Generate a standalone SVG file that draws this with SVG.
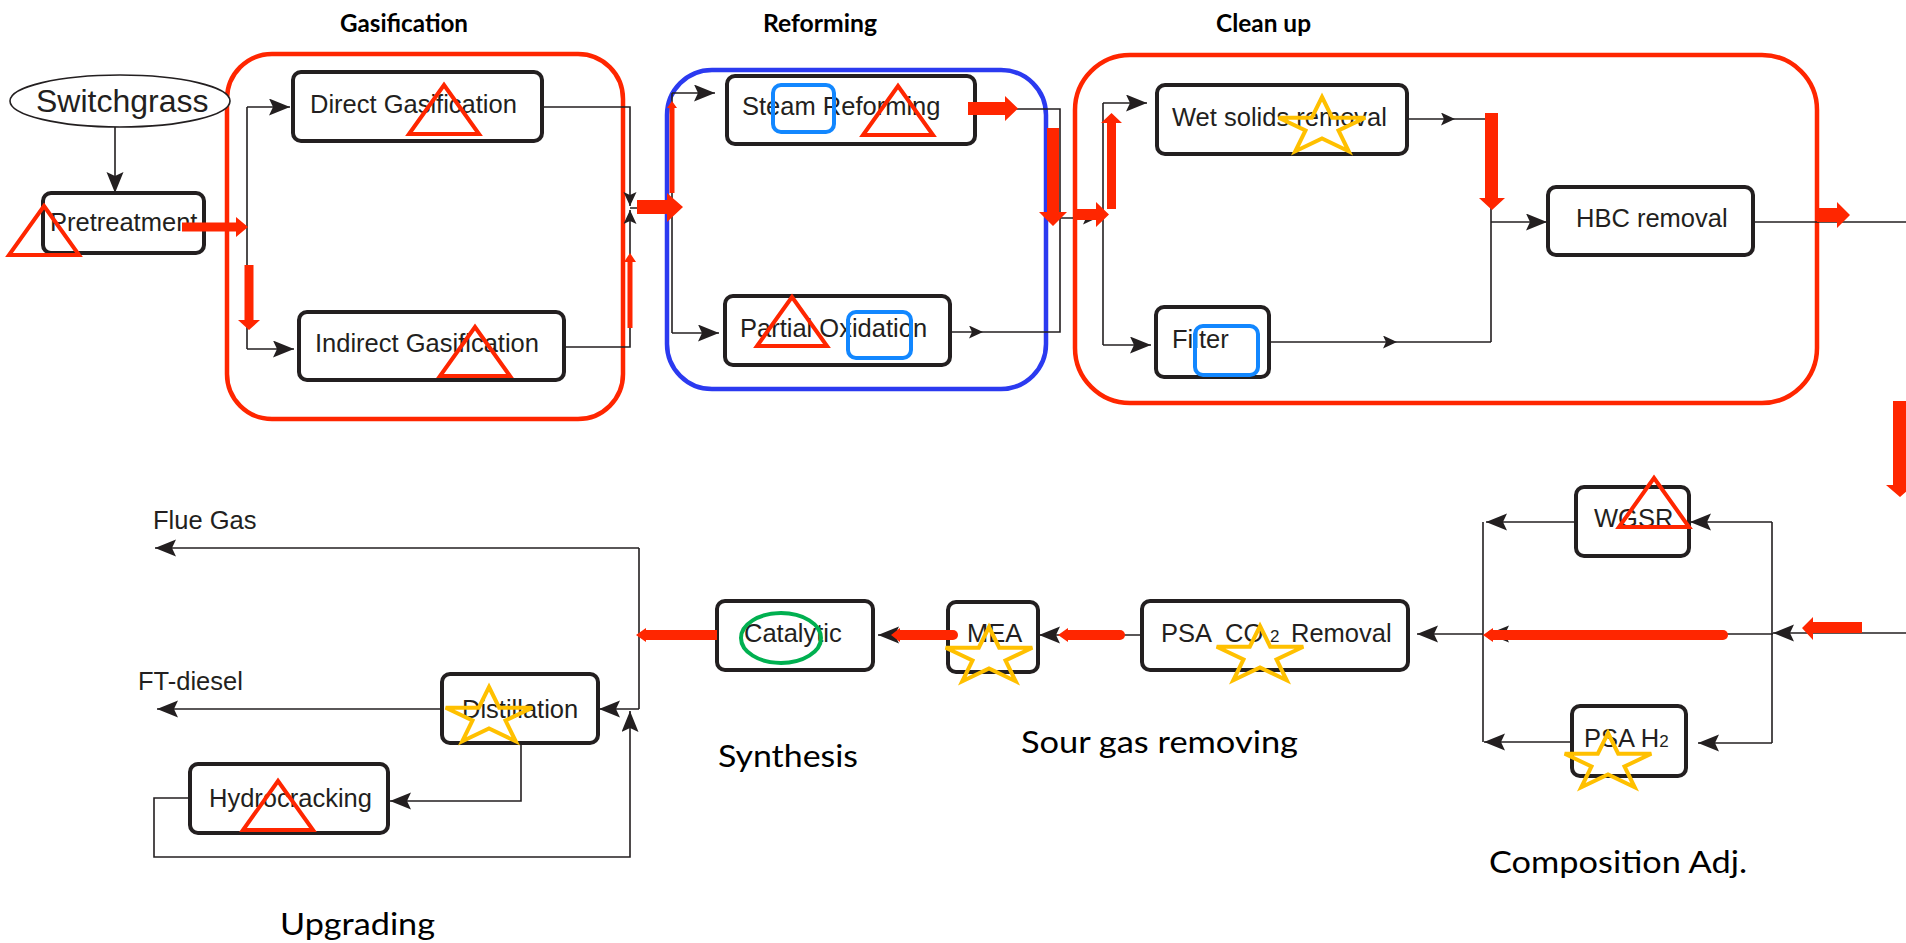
<svg xmlns="http://www.w3.org/2000/svg" xmlns:xlink="http://www.w3.org/1999/xlink" width="1906" height="943" viewBox="0 0 1906 943">
  <style>
    .box { fill: #ffffff; stroke: #231f20; stroke-width: 4; }
    .lbl { font-family: "Liberation Sans", Arial, sans-serif; font-size: 25.5px; fill: #231f20; }
    .sub { font-size: 17px; }
    .stage { font-family: Lato, "Open Sans", sans-serif; font-size: 31px; fill: #000000; }
    .stageb { font-family: Lato, "Open Sans", sans-serif; font-size: 25px; font-weight: bold; fill: #000000; }
    .wire { fill: none; stroke: #231f20; stroke-width: 1.6; }
    .wire-a { fill: none; stroke: #231f20; stroke-width: 1.6; marker-end: url(#arr); }
    .wire-s { fill: none; stroke: #231f20; stroke-width: 1.6; marker-end: url(#arrS); }
    .grp-red { fill: none; stroke: #ff2600; stroke-width: 4.5; }
    .grp-blue { fill: none; stroke: #2b3af0; stroke-width: 4.5; }
    .tri { fill: none; stroke: #ff2600; stroke-width: 4; stroke-linejoin: miter; }
    .sq { fill: none; stroke: #1287ff; stroke-width: 4; }
    .star { fill: none; stroke: #ffc000; stroke-width: 4; }
    .ring { fill: none; stroke: #00b050; stroke-width: 4; }
    .flow { fill: #ff2600; stroke: none; }
    .bar { fill: none; stroke: #ff2600; stroke-width: 10; stroke-linecap: round; }
  </style>
  <defs>
    <marker id="arr" markerUnits="userSpaceOnUse" markerWidth="22" markerHeight="18" refX="21" refY="8.5" orient="auto">
      <path d="M0,0 L21,8.5 L0,17 L4,8.5 Z" fill="#231f20"/>
    </marker>
    <marker id="arrS" markerUnits="userSpaceOnUse" markerWidth="15" markerHeight="14" refX="14" refY="6.5" orient="auto">
      <path d="M0,0 L14,6.5 L0,13 L3,6.5 Z" fill="#231f20"/>
    </marker>
    <polygon id="tri" class="tri" points="0,0 35,49 -35,49"/>
    <polygon id="star" class="star" points="0,-30 10.2,-9.3 43.3,-9.3 16.5,3.5 26.7,24.3 0,11.5 -26.7,24.3 -16.5,3.5 -43.3,-9.3 -10.2,-9.3"/>
  </defs>

  <rect width="1906" height="943" fill="#ffffff"/>

  <!-- stage outlines -->
  <g id="stages">
    <rect class="grp-red" x="227" y="54" width="396" height="365" rx="45"/>
    <rect class="grp-blue" x="667" y="70" width="379" height="319" rx="45"/>
    <rect class="grp-red" x="1075" y="55" width="742" height="348" rx="55"/>
  </g>

  <!-- stage titles -->
  <g id="stage-titles">
    <text class="stageb" x="340" y="32" textLength="128" lengthAdjust="spacingAndGlyphs">Gasification</text>
    <text class="stageb" x="763" y="32" textLength="114" lengthAdjust="spacingAndGlyphs">Reforming</text>
    <text class="stageb" x="1216" y="32" textLength="95" lengthAdjust="spacingAndGlyphs">Clean up</text>
    <text class="stage" x="1021" y="753" textLength="277" lengthAdjust="spacingAndGlyphs">Sour gas removing</text>
    <text class="stage" x="718" y="767" textLength="140" lengthAdjust="spacingAndGlyphs">Synthesis</text>
    <text class="stage" x="280" y="935" textLength="155" lengthAdjust="spacingAndGlyphs">Upgrading</text>
    <text class="stage" x="1489" y="873" textLength="258" lengthAdjust="spacingAndGlyphs">Composition Adj.</text>
  </g>

  <!-- process connectors -->
  <g id="connectors">
    <path class="wire-a" d="M115,127 V193"/>
    <path class="wire" d="M204,227 H247"/>
    <path class="wire" d="M247,107 V349"/>
    <path class="wire-a" d="M247,107 H290"/>
    <path class="wire-a" d="M247,349 H294"/>
    <path class="wire-s" d="M542,107 H630 V206"/>
    <path class="wire-s" d="M564,347 H630 V210"/>
    <path class="wire" d="M630,208 H672"/>
    <path class="wire" d="M672,93 V333"/>
    <path class="wire-a" d="M672,93 H715"/>
    <path class="wire-a" d="M672,333 H719"/>
    <path class="wire" d="M975,109 H1060 V218"/>
    <path class="wire-s" d="M950,332 H983"/>
    <path class="wire" d="M983,332 H1060 V218"/>
    <path class="wire-s" d="M1060,218 H1097"/>
    <path class="wire" d="M1097,218 H1103"/>
    <path class="wire" d="M1103,103 V345"/>
    <path class="wire-a" d="M1103,103 H1147"/>
    <path class="wire-a" d="M1103,345 H1151"/>
    <path class="wire-s" d="M1407,119 H1455"/>
    <path class="wire" d="M1455,119 H1491 V342"/>
    <path class="wire-s" d="M1269,342 H1397"/>
    <path class="wire" d="M1397,342 H1491"/>
    <path class="wire-a" d="M1491,222 H1547"/>
    <path class="wire" d="M1753,222 H1906"/>
    <path class="wire-a" d="M1906,633 H1773"/>
    <path class="wire" d="M1772,522 V743"/>
    <path class="wire-a" d="M1772,522 H1690"/>
    <path class="wire-a" d="M1772,743 H1698"/>
    <path class="wire-a" d="M1773,634 H1488"/>
    <path class="wire-a" d="M1576,522 H1486"/>
    <path class="wire" d="M1483,522 V742"/>
    <path class="wire-a" d="M1572,742 H1484"/>
    <path class="wire-a" d="M1483,634 H1417"/>
    <path class="wire-a" d="M1142,635 H1039"/>
    <path class="wire-a" d="M948,635 H878"/>
    <path class="wire" d="M717,635 H639"/>
    <path class="wire" d="M639,548 V709"/>
    <path class="wire-a" d="M639,548 H155"/>
    <path class="wire-a" d="M639,709 H599"/>
    <path class="wire-a" d="M442,709 H157"/>
    <path class="wire-a" d="M521,743 V801 H390"/>
    <path class="wire-a" d="M190,798 H154 V857 H630 V711"/>
  </g>

  <!-- process units -->
  <g id="switchgrass">
    <ellipse cx="120" cy="101" rx="110" ry="26" fill="#ffffff" stroke="#231f20" stroke-width="1.6"/>
    <text class="lbl" x="36" y="112" style="font-size:32px">Switchgrass</text>
  </g>
  <g id="pretreatment">
    <rect class="box" x="43" y="193" width="161" height="60" rx="8"/>
    <text class="lbl" x="50" y="231">Pretreatment</text>
  </g>
  <g id="direct-gasification">
    <rect class="box" x="293" y="72" width="249" height="69" rx="8"/>
    <text class="lbl" x="310" y="113">Direct Gasification</text>
  </g>
  <g id="indirect-gasification">
    <rect class="box" x="299" y="312" width="265" height="68" rx="8"/>
    <text class="lbl" x="315" y="352">Indirect Gasification</text>
  </g>
  <g id="steam-reforming">
    <rect class="box" x="727" y="76" width="248" height="68" rx="8"/>
    <text class="lbl" x="742" y="115">Steam Reforming</text>
  </g>
  <g id="partial-oxidation">
    <rect class="box" x="725" y="296" width="225" height="69" rx="8"/>
    <text class="lbl" x="740" y="337">Partial Oxidation</text>
  </g>
  <g id="wet-solids-removal">
    <rect class="box" x="1157" y="85" width="250" height="69" rx="8"/>
    <text class="lbl" x="1172" y="126">Wet solids removal</text>
  </g>
  <g id="filter">
    <rect class="box" x="1156" y="307" width="113" height="70" rx="8"/>
    <text class="lbl" x="1172" y="348">Filter</text>
  </g>
  <g id="hbc-removal">
    <rect class="box" x="1548" y="187" width="205" height="68" rx="8"/>
    <text class="lbl" x="1576" y="227">HBC removal</text>
  </g>
  <g id="wgsr">
    <rect class="box" x="1576" y="487" width="113" height="69" rx="8"/>
    <text class="lbl" x="1594" y="527">WGSR</text>
  </g>
  <g id="psa-h2">
    <rect class="box" x="1572" y="706" width="114" height="70" rx="8"/>
    <text class="lbl" x="1584" y="747">PSA H<tspan class="sub">2</tspan></text>
  </g>
  <g id="psa-co2-removal">
    <rect class="box" x="1142" y="601" width="266" height="69" rx="8"/>
    <text class="lbl" x="1161" y="642">PSA<tspan x="1225">CO</tspan><tspan class="sub" x="1270">2</tspan><tspan x="1291">Removal</tspan></text>
  </g>
  <g id="mea">
    <rect class="box" x="948" y="602" width="90" height="70" rx="8"/>
    <text class="lbl" x="967" y="642">MEA</text>
  </g>
  <g id="catalytic">
    <rect class="box" x="717" y="601" width="156" height="69" rx="8"/>
    <text class="lbl" x="744" y="642">Catalytic</text>
  </g>
  <g id="distillation">
    <rect class="box" x="442" y="674" width="156" height="69" rx="8"/>
    <text class="lbl" x="462" y="718">Distillation</text>
  </g>
  <g id="hydrocracking">
    <rect class="box" x="190" y="764" width="198" height="69" rx="8"/>
    <text class="lbl" x="209" y="807">Hydrocracking</text>
  </g>
  <g id="products">
    <text class="lbl" x="153" y="529">Flue Gas</text>
    <text class="lbl" x="138" y="690">FT-diesel</text>
  </g>

  <!-- markers placed on units -->
  <g id="marks">
    <use xlink:href="#tri" transform="translate(44,206)"/>
    <use xlink:href="#tri" transform="translate(444,85)"/>
    <use xlink:href="#tri" transform="translate(475,327)"/>
    <use xlink:href="#tri" transform="translate(898,86)"/>
    <use xlink:href="#tri" transform="translate(792,297)"/>
    <use xlink:href="#tri" transform="translate(1654,478)"/>
    <use xlink:href="#tri" transform="translate(278,781)"/>
    <rect class="sq" x="773" y="85" width="61" height="47" rx="8"/>
    <rect class="sq" x="848" y="312" width="63" height="46" rx="8"/>
    <rect class="sq" x="1195" y="326" width="63" height="49" rx="8"/>
    <use xlink:href="#star" transform="translate(1322,127)"/>
    <use xlink:href="#star" transform="translate(989,657)"/>
    <use xlink:href="#star" transform="translate(1260,656)"/>
    <use xlink:href="#star" transform="translate(1608,763)"/>
    <use xlink:href="#star" transform="translate(489,717)"/>
    <ellipse class="ring" cx="781" cy="638" rx="40" ry="25"/>
  </g>

  <!-- main flow path -->
  <g id="flow">
    <polygon class="flow" points="182,222.5 236,222.5 236,217 248,227 236,237 236,231.5 182,231.5"/>
    <polygon class="flow" points="244.5,265 253.5,265 253.5,320 260,320 249,330 238,320 244.5,320"/>
    <polygon class="flow" points="627.5,328 632.5,328 632.5,262 636,262 630,253 624,262 627.5,262"/>
    <polygon class="flow" points="637,200 667,200 667,193 683,207 667,222 667,214 637,214"/>
    <polygon class="flow" points="669.5,193 674.5,193 674.5,108 677,108 672,101 667,108 669.5,108"/>
    <polygon class="flow" points="968,102 1005,102 1005,96 1018,108.5 1005,121 1005,115 968,115"/>
    <polygon class="flow" points="1047,128 1059,128 1059,212 1067,212 1053,226 1039,212 1047,212"/>
    <polygon class="flow" points="1073,209 1096,209 1096,202 1109,214.5 1096,227 1096,220 1073,220"/>
    <polygon class="flow" points="1107,209 1116,209 1116,123 1122,123 1111.5,113 1101,123 1107,123"/>
    <polygon class="flow" points="1485,113 1498,113 1498,198 1505,198 1492,210 1479,198 1485,198"/>
    <polygon class="flow" points="1817,208 1837,208 1837,202 1850,215 1837,228 1837,222 1817,222"/>
    <polygon class="flow" points="1893,401 1907,401 1907,485 1914,485 1900,497 1886,485 1893,485"/>
    <polygon class="flow" points="1862,622 1813,622 1813,617 1802,628 1813,640 1813,633 1862,633"/>
    <line class="bar" x1="1492" y1="635" x2="1723" y2="635"/>
    <polygon class="flow" points="1493,628 1483,635 1493,642"/>
    <line class="bar" x1="1068" y1="635" x2="1120" y2="635"/>
    <polygon class="flow" points="1068,628 1058,635 1068,642"/>
    <line class="bar" x1="900" y1="635" x2="953" y2="635"/>
    <polygon class="flow" points="900,628 891,635 900,642"/>
    <line class="bar" x1="646" y1="635" x2="717" y2="635" style="stroke-linecap:butt"/>
    <polygon class="flow" points="646,628 636,635 646,642"/>
  </g>
</svg>
